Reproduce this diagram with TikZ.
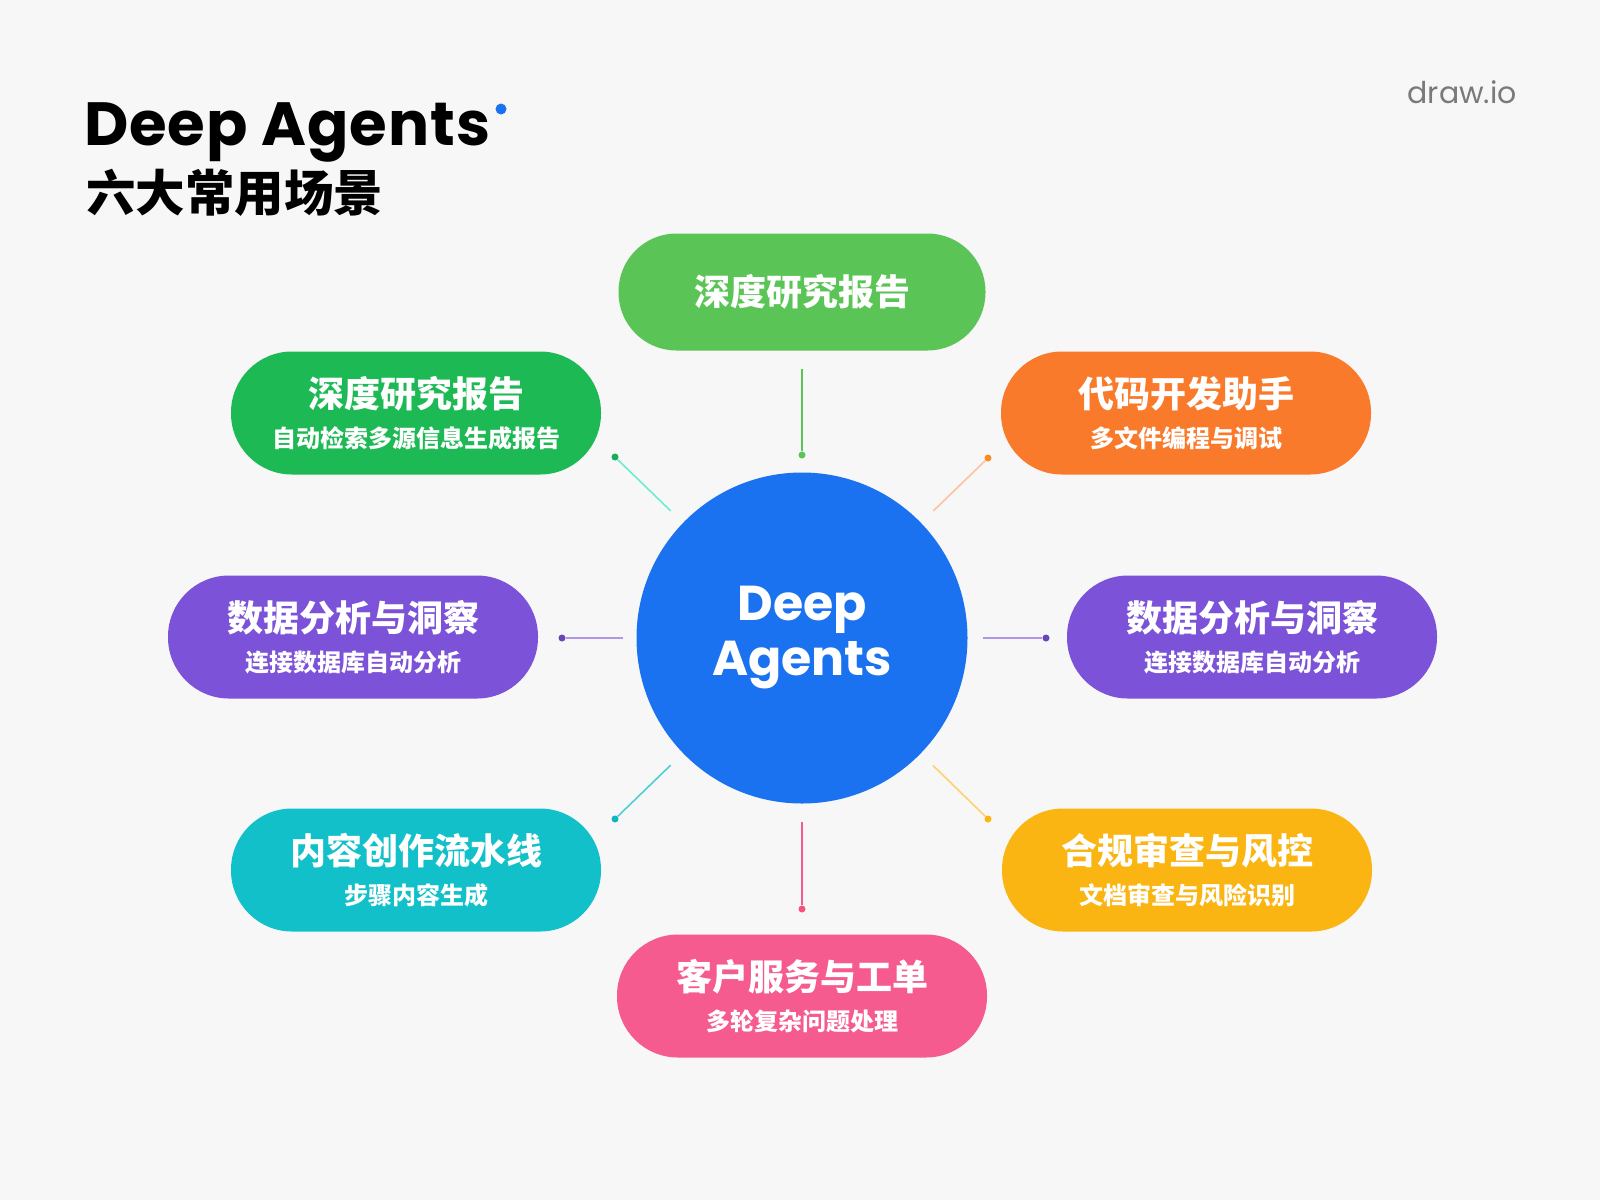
\documentclass[tikz,border=0pt]{standalone}
\usepackage{fontspec}
\setmainfont{Poppins}
\newfontfamily\cjk{Noto Sans CJK SC}
\usepackage{xcolor}
\usepackage{tikz}

\definecolor{bgGray}{HTML}{F7F7F7}
\definecolor{coreBlue}{HTML}{1A72F0}
\definecolor{leafGreen}{HTML}{5BC456}
\definecolor{deepGreen}{HTML}{1DB954}
\definecolor{codeOrange}{HTML}{F97A2B}
\definecolor{dataPurple}{HTML}{7C52D8}
\definecolor{flowCyan}{HTML}{12C0C9}
\definecolor{riskAmber}{HTML}{FAB512}
\definecolor{carePink}{HTML}{F55B8E}
\definecolor{logoGray}{HTML}{7A7A7A}

\newcommand\headtxt[1]{{\fontsize{36}{39}\selectfont #1}}

\begin{document}
\begin{tikzpicture}[x=1pt, y=-1pt,
  pill/.style={rectangle, rounded corners=61pt, minimum width=370pt, minimum height=123pt, inner sep=0pt,
    align=center, text=white, font=\cjk\bfseries\fontsize{24}{40}\selectfont},
  core/.style={circle, fill=coreBlue, minimum size=331pt, inner sep=0pt, align=center, text=white,
    font=\bfseries\fontsize{49}{55}\selectfont},
  endpt/.style={circle, inner sep=0pt, minimum size=7pt},
  link/.style={line width=1.6pt}]
\fill[bgGray] (0,0) rectangle (1600,1200);
\useasboundingbox (0,0) rectangle (1600,1200);

\node[anchor=base west, inner sep=0pt, font=\bfseries\fontsize{61}{66}\selectfont] (title) at (84,145) {\addfontfeatures{LetterSpace=1.5}Deep Agents};
\node[endpt, fill=coreBlue, minimum size=11pt] (tdot) at (501,109) {};
\node[anchor=base west, inner sep=0pt, font=\cjk\bfseries\fontsize{49.5}{54}\selectfont] (subtitle) at (86,211) {六大常用场景};
\node[anchor=base east, inner sep=0pt, text=logoGray, font=\fontsize{30}{34}\selectfont] (logo) at (1517,103) {draw.io};

\node[core] (core) at (802,638) {Deep\\Agents};

\node[pill, fill=leafGreen, minimum width=367pt, minimum height=117pt, rounded corners=58pt] (top) at (802,292) {\headtxt{深度研究报告}};
\node[pill, fill=deepGreen] (research) at (416,413) {\headtxt{深度研究报告}\\自动检索多源信息生成报告};
\node[pill, fill=codeOrange] (code) at (1186,413) {\headtxt{代码开发助手}\\多文件编程与调试};
\node[pill, fill=dataPurple] (dataL) at (353,637) {\headtxt{数据分析与洞察}\\连接数据库自动分析};
\node[pill, fill=dataPurple] (dataR) at (1252,637) {\headtxt{数据分析与洞察}\\连接数据库自动分析};
\node[pill, fill=flowCyan] (content) at (416,870) {\headtxt{内容创作流水线}\\步骤内容生成};
\node[pill, fill=riskAmber] (risk) at (1187,870) {\headtxt{合规审查与风控}\\文档审查与风险识别};
\node[pill, fill=carePink] (service) at (802,996) {\headtxt{客户服务与工单}\\多轮复杂问题处理};

\node[endpt, fill=leafGreen] (dTop) at (802,455) {};
\node[endpt, fill=deepGreen!80!teal] (dResearch) at (615,457) {};
\node[endpt, fill=codeOrange!70!riskAmber] (dCode) at (988,458) {};
\node[endpt, fill=dataPurple!85!black] (dDataL) at (562,638) {};
\node[endpt, fill=dataPurple!85!black] (dDataR) at (1046,638) {};
\node[endpt, fill=flowCyan!85!teal] (dContent) at (615,819) {};
\node[endpt, fill=riskAmber] (dRisk) at (988,819) {};
\node[endpt, fill=carePink!90!red] (dService) at (802,909) {};

\draw[link, leafGreen, shorten <=18pt] (top) -- (dTop);
\draw[link, deepGreen!45!cyan!60!white, shorten <=17pt] (core) -- (dResearch);
\draw[link, codeOrange!45!white, shorten <=17pt] (core) -- (dCode);
\draw[link, dataPurple!60!white, shorten <=13pt] (core) -- (dDataL);
\draw[link, dataPurple!60!white, shorten <=15pt] (core) -- (dDataR);
\draw[link, flowCyan!75!white, shorten <=17pt] (core) -- (dContent);
\draw[link, riskAmber!60!white, shorten <=17pt] (core) -- (dRisk);
\draw[link, carePink, shorten <=18pt] (core) -- (dService);
\end{tikzpicture}
\end{document}
